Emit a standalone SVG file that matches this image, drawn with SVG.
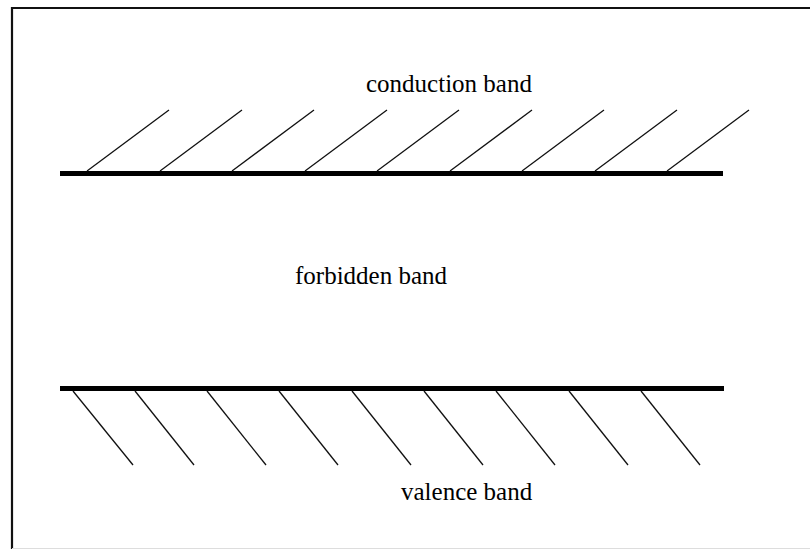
<svg xmlns="http://www.w3.org/2000/svg" width="810" height="550" viewBox="0 0 810 550">
<style>
.band{stroke:#000;stroke-width:5;fill:none}
.hatch{stroke:#111;stroke-width:1.3;fill:none}
.lbl{font-family:"Liberation Serif","Times New Roman",serif;font-size:25px;fill:#000}
</style>
<rect width="810" height="550" fill="#fff"/>
<path d="M12,549 V8 H810" stroke="#111" stroke-width="2.2" fill="none"/>
<line x1="12" y1="548.5" x2="810" y2="548.5" stroke="#ddd" stroke-width="1"/>
<g id="conduction-band">
<line class="band" x1="60" y1="173.5" x2="723" y2="173.5"/>
<g class="hatch">
<line x1="87" y1="171" x2="169" y2="110"/>
<line x1="160" y1="171" x2="242" y2="110"/>
<line x1="232" y1="171" x2="314" y2="110"/>
<line x1="305" y1="171" x2="387" y2="110"/>
<line x1="377" y1="171" x2="459" y2="110"/>
<line x1="450" y1="171" x2="532" y2="110"/>
<line x1="522" y1="171" x2="604" y2="110"/>
<line x1="595" y1="171" x2="677" y2="110"/>
<line x1="667" y1="171" x2="749" y2="110"/>
</g>
<text class="lbl" x="366" y="92">conduction band</text>
</g>
<g id="forbidden-band">
<text class="lbl" x="295" y="284">forbidden band</text>
</g>
<g id="valence-band">
<line class="band" x1="60" y1="388.5" x2="724" y2="388.5"/>
<g class="hatch">
<line x1="73" y1="391" x2="133" y2="465"/>
<line x1="135" y1="391" x2="194" y2="465"/>
<line x1="207" y1="391" x2="266" y2="465"/>
<line x1="279" y1="391" x2="338" y2="465"/>
<line x1="352" y1="391" x2="411" y2="465"/>
<line x1="424" y1="391" x2="483" y2="465"/>
<line x1="496" y1="391" x2="555" y2="465"/>
<line x1="569" y1="391" x2="628" y2="465"/>
<line x1="641" y1="391" x2="700" y2="465"/>
</g>
<text class="lbl" x="401" y="500">valence band</text>
</g>
</svg>
